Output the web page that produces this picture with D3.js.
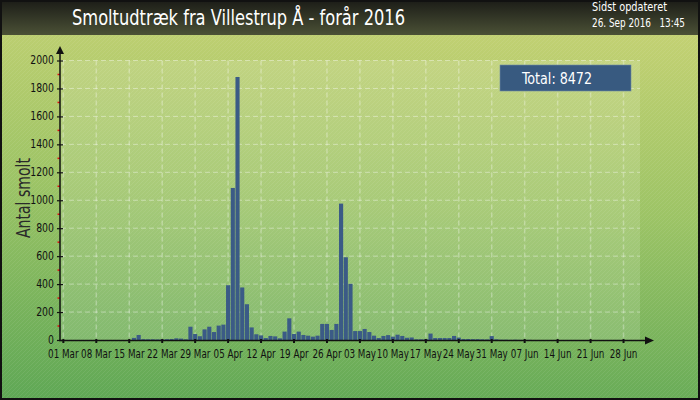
<!DOCTYPE html>
<html><head><meta charset="utf-8">
<script src="https://cdn.jsdelivr.net/npm/d3@7/dist/d3.min.js"></script>
<style>html,body{margin:0;padding:0;background:#fff}svg{display:block}</style>
</head><body><svg id="c" width="700" height="400"></svg>
<script>
// ---- data ----
const startDate = "2016-03-01";
const endDate = "2016-07-01";
// daily smolt counts starting 01 Mar 2016
const smolt = [
  0,0,0,0,0,0,0,0,0,0,0,0,0,0,0,15,36,6,5,5,4,5,6,7,12,10,5,
  95,43,27,76,95,57,103,110,392,1088,1882,376,256,90,41,33,14,29,26,12,
  60,155,43,60,36,31,24,31,115,115,72,115,976,592,402,64,64,79,57,31,14,
  29,35,24,38,29,16,18,5,5,6,46,14,14,14,14,29,17,7,7,6,6,5,4,28,5,
  2,2,1,2,1,1,1,0,0,0,0,0,0,0,0,0,0,0,0,0,0,0,0
];
const yTicks = [0,200,400,600,800,1000,1200,1400,1600,1800,2000];
const xTickLabels = ["01 Mar","08 Mar","15 Mar","22 Mar","29 Mar","05 Apr","12 Apr","19 Apr","26 Apr","03 May","10 May","17 May","24 May","31 May","07 Jun","14 Jun","21 Jun","28 Jun"];
const title = "Smoltudtræk fra Villestrup Å - forår 2016";
const updatedLabel = "Sidst opdateret";
const updatedValue = "26. Sep 2016   13:45";
const yLabel = "Antal smolt";
const totalLabel = "Total: 8472";

// ---- setup ----
const parse = d3.timeParse("%Y-%m-%d");
const days = d3.timeDay.range(parse(startDate), d3.timeDay.offset(parse(endDate), 1));
const data = days.map((d, i) => ({date: d, v: smolt[i] || 0}));
const svg = d3.select("#c");
const W = 700, H = 400;
const FONT = "'DejaVu Sans Condensed','Liberation Sans Narrow','DejaVu Sans',sans-serif";

const defs = svg.append("defs");
const bg = defs.append("linearGradient").attr("id","bg").attr("x1",0.1).attr("y1",0).attr("x2",0).attr("y2",1);
bg.append("stop").attr("offset","0%").attr("stop-color","#c3d173");
bg.append("stop").attr("offset","45%").attr("stop-color","#9dc466");
bg.append("stop").attr("offset","100%").attr("stop-color","#5ea755");
const hd = defs.append("linearGradient").attr("id","hd").attr("x1",0).attr("y1",0).attr("x2",0).attr("y2",1);
hd.append("stop").attr("offset","0%").attr("stop-color","#1b1c17");
hd.append("stop").attr("offset","100%").attr("stop-color","#4b5136");
const pat = defs.append("pattern").attr("id","stripes").attr("patternUnits","userSpaceOnUse").attr("width",4).attr("height",4);
pat.append("path").attr("d","M-1,1 L1,-1 M0,4 L4,0 M3,5 L5,3").attr("stroke","#ffffff").attr("stroke-opacity",0.07).attr("stroke-width",1);

svg.append("rect").attr("width",W).attr("height",H).attr("fill","url(#bg)");
svg.append("rect").attr("width",W).attr("height",H).attr("fill","url(#stripes)");
svg.append("rect").attr("width",W).attr("height",35).attr("fill","url(#hd)");
svg.append("rect").attr("x",1).attr("y",1).attr("width",W-2).attr("height",H-2).attr("fill","none").attr("stroke","#111").attr("stroke-width",2);

// ---- scales ----
const x = d3.scaleBand().domain(data.map(d => d.date)).range([61, 640]).paddingInner(0.12).paddingOuter(0.06);
const y = d3.scaleLinear().domain([0, 2000]).range([340, 60.5]);
const xc = d => x(d) + x.bandwidth() / 2;

// plot area highlight
svg.append("rect").attr("x",61).attr("y",y(2000)).attr("width",579).attr("height",y(0)-y(2000))
  .attr("fill","#ffffff").attr("fill-opacity",0.13);

// grid
const tickDates = data.filter((d, i) => i % 7 === 0).slice(0, xTickLabels.length).map(d => d.date);
svg.append("g").selectAll("line").data(yTicks.filter(t => t > 0)).join("line")
  .attr("x1",61).attr("x2",640).attr("y1",d => y(d)).attr("y2",d => y(d))
  .attr("stroke","#ffffff").attr("stroke-opacity",0.4).attr("stroke-dasharray","5,3");
svg.append("g").selectAll("line").data(tickDates).join("line")
  .attr("x1",d => xc(d)).attr("x2",d => xc(d)).attr("y1",y(2000)).attr("y2",y(0))
  .attr("stroke","#ffffff").attr("stroke-opacity",0.3).attr("stroke-width",1.5).attr("stroke-dasharray","5,3");

// bars
svg.append("g").selectAll("rect").data(data.filter(d => d.v > 0)).join("rect")
  .attr("x",d => x(d.date)).attr("width",x.bandwidth())
  .attr("y",d => y(d.v)).attr("height",d => y(0) - y(d.v))
  .attr("fill","#3b5b86");

// y axis
const yAxis = d3.axisLeft(y).tickValues(yTicks).tickSize(3).tickPadding(3).tickFormat(d3.format("d"));
const gy = svg.append("g").attr("transform","translate(60,0)").call(yAxis);
gy.select(".domain").remove();
gy.selectAll(".tick line").attr("x1",-3).attr("x2",3).attr("stroke","#111").attr("stroke-width",1.2);
gy.selectAll(".tick text").attr("font-family",FONT).attr("font-size",13).attr("fill","#111")
  .attr("x",-7.5).attr("dy","0.25em").attr("transform","scale(0.8,1)");
// minor red ticks
svg.append("g").selectAll("line").data(d3.range(100, 2000, 200)).join("line")
  .attr("x1",57.5).attr("x2",60).attr("y1",d => y(d)).attr("y2",d => y(d))
  .attr("stroke","#e01010").attr("stroke-width",1.5);
svg.append("line").attr("x1",60).attr("x2",60).attr("y1",341).attr("y2",52).attr("stroke","#111").attr("stroke-width",1.5);
svg.append("path").attr("d","M60,46 L56,54 L64,54 Z").attr("fill","#111");

// x axis
const xAxis = d3.axisBottom(x).tickValues(tickDates).tickSize(3).tickPadding(6)
  .tickFormat((d, i) => xTickLabels[i]);
const gx = svg.append("g").attr("transform","translate(0,340)").call(xAxis);
gx.select(".domain").remove();
gx.selectAll(".tick line").attr("y1",-1).attr("y2",3).attr("stroke","#111").attr("stroke-width",2);
gx.selectAll(".tick text").attr("font-family",FONT).attr("font-size",13).attr("fill","#111")
  .attr("transform","scale(0.75,1)");
svg.append("line").attr("x1",59).attr("x2",646).attr("y1",340.5).attr("y2",340.5).attr("stroke","#111").attr("stroke-width",1.6);
svg.append("path").attr("d","M654,340.5 L645,336.5 L645,344.5 Z").attr("fill","#111");

// y label
svg.append("text").attr("transform","translate(30,198) rotate(-90)").attr("text-anchor","middle")
  .attr("font-family",FONT).attr("font-size",19).attr("fill","#2a2a2a")
  .attr("textLength",80).attr("lengthAdjust","spacingAndGlyphs").text(yLabel);

// title + header texts
svg.append("text").attr("x",72).attr("y",25).attr("font-family",FONT).attr("font-size",22)
  .attr("fill","#ffffff").attr("textLength",333).attr("lengthAdjust","spacingAndGlyphs").text(title);
svg.append("text").attr("x",592).attr("y",11).attr("font-family",FONT).attr("font-size",11.5)
  .attr("fill","#ffffff").attr("textLength",75).attr("lengthAdjust","spacingAndGlyphs").text(updatedLabel);
svg.append("text").attr("x",592).attr("y",27).attr("font-family",FONT).attr("font-size",11.5)
  .attr("fill","#ffffff").attr("xml:space","preserve").style("white-space","pre")
  .attr("textLength",93).attr("lengthAdjust","spacingAndGlyphs").text(updatedValue);

// total box
svg.append("rect").attr("x",500).attr("y",65).attr("width",131).attr("height",26).attr("fill","#385a80")
  .attr("stroke","#6f8aa6").attr("stroke-width",0.6);
svg.append("text").attr("x",522).attr("y",84).attr("font-family",FONT).attr("font-size",16)
  .attr("fill","#ffffff").attr("textLength",70).attr("lengthAdjust","spacingAndGlyphs").text(totalLabel);
</script></body></html>
